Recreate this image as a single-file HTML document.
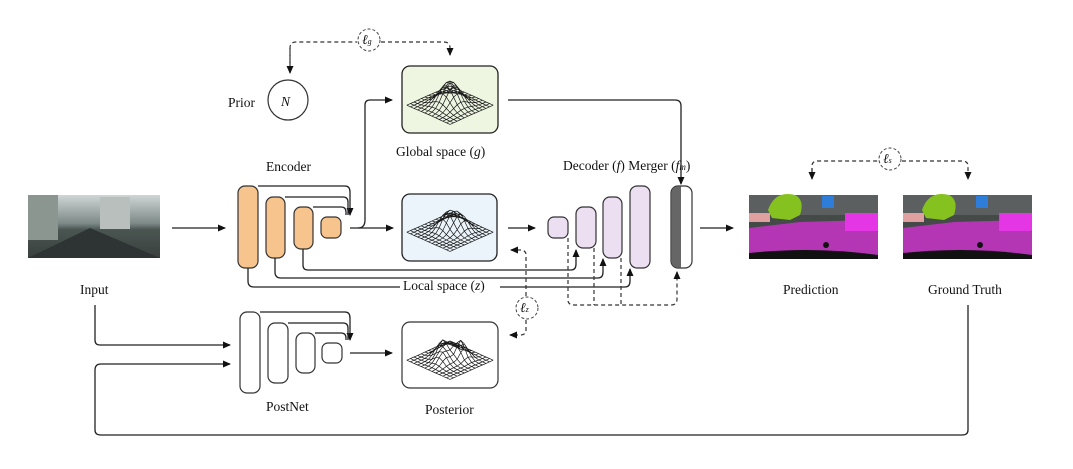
<!DOCTYPE html>
<html><head><style>
body{margin:0;background:#fff}
svg{display:block}
text{font-family:"Liberation Serif",serif;font-size:13.5px;fill:#111}
.s{stroke:#222;stroke-width:1.3;fill:none}
.d{stroke:#333;stroke-width:1.2;fill:none;stroke-dasharray:4,3}
.o{fill:#f8c48e;stroke:#333;stroke-width:1.2}
.p{fill:#ebdff1;stroke:#333;stroke-width:1.2}
.w{fill:#fff;stroke:#333;stroke-width:1.2}
</style></head><body>
<svg width="1073" height="469" viewBox="0 0 1073 469">
<defs>
<marker id="a" markerWidth="8" markerHeight="8" refX="7" refY="4" orient="auto" markerUnits="userSpaceOnUse"><path d="M0,0.5L8,4L0,7.5z" fill="#111"/></marker>
<linearGradient id="sky" x1="0" y1="0" x2="0" y2="1"><stop offset="0" stop-color="#cfd6d6"/><stop offset="0.45" stop-color="#7d8a88"/><stop offset="0.55" stop-color="#4a5552"/><stop offset="1" stop-color="#3a403e"/></linearGradient>
</defs>
<!-- input -->
<rect x="28" y="195" width="132" height="63" fill="url(#sky)"/>
<rect x="28" y="195" width="30" height="45" fill="#8a968f"/><rect x="100" y="197" width="30" height="32" fill="#b8bfbc"/>
<path d="M28,258L90,228L160,258Z" fill="#2e3433"/>
<text x="80" y="294">Input</text>
<path class="s" d="M172,228H225" marker-end="url(#a)"/>
<!-- encoder -->
<text x="266" y="171">Encoder</text>
<rect class="o" x="238" y="186" width="20" height="82" rx="7"/>
<rect class="o" x="266" y="197" width="19" height="61" rx="7"/>
<rect class="o" x="294" y="207" width="19" height="42" rx="7"/>
<rect class="o" x="321" y="217" width="20" height="21" rx="6"/>
<path class="s" d="M258,186H345Q350,186 350,192V215" marker-end="url(#a)"/>
<path class="s" d="M285,197H343Q348,197 348,202V215"/>
<path class="s" d="M313,207H341Q346,207 346,212V215"/>
<path class="s" d="M350,228H393" marker-end="url(#a)"/>
<path class="s" d="M358,228Q365,228 365,220V105Q365,100 370,100H392" marker-end="url(#a)"/>
<!-- prior -->
<text x="228" y="107">Prior</text>
<circle cx="288" cy="100" r="20" class="w"/>
<text x="281" y="106" font-style="italic" font-size="17">N</text>
<path class="d" d="M290,70V48Q290,42 296,42H357M381,42H444Q450,42 450,48V55" marker-end="url(#a)"/>
<path class="d" d="M290,48V73" marker-end="url(#a)"/>
<circle cx="369" cy="40" r="11" fill="#fff" stroke="#444" stroke-dasharray="3,2"/>
<text x="362" y="44" font-style="italic">ℓ<tspan font-size="8">g</tspan></text>
<!-- global -->
<rect x="402" y="66" width="96" height="67" rx="8" fill="#eef6e2" stroke="#222" stroke-width="1.3"/>
<g id="m1"></g>
<text x="396" y="156">Global space (<tspan font-style="italic">g</tspan>)</text>
<path class="s" d="M508,100H675Q681,100 681,106V184" marker-end="url(#a)"/>
<!-- local -->
<rect x="402" y="194" width="95" height="67" rx="8" fill="#eaf4fa" stroke="#222" stroke-width="1.3"/>
<g id="m2"></g>
<path class="s" d="M508,228H535" marker-end="url(#a)"/>
<!-- skip lines -->
<path class="s" d="M303,249V265Q303,270 308,270H571Q576,270 576,264V250" marker-end="url(#a)"/>
<path class="s" d="M275,258V272Q275,278 281,278H598Q603,278 603,272V259" marker-end="url(#a)"/>
<path class="s" d="M248,268V281Q248,287 254,287H625Q630,287 630,281V269" marker-end="url(#a)"/>
<rect x="400" y="279" width="100" height="14" fill="#fff"/>
<text x="403" y="290">Local space (<tspan font-style="italic">z</tspan>)</text>
<!-- decoder -->
<text x="563" y="170">Decoder (<tspan font-style="italic">f</tspan>)  Merger (<tspan font-style="italic">f<tspan font-size="9">m</tspan></tspan>)</text>
<rect class="p" x="548" y="217" width="20" height="21" rx="6"/>
<rect class="p" x="576" y="207" width="20" height="41" rx="7"/>
<rect class="p" x="603" y="197" width="19" height="61" rx="7"/>
<rect class="p" x="630" y="186" width="20" height="82" rx="7"/>
<rect x="671" y="186" width="21" height="82" rx="7" fill="#fff" stroke="#333" stroke-width="1.2"/>
<path d="M681,186.6H678Q671.6,186.6 671.6,193V261Q671.6,267.4 678,267.4H681Z" fill="#666"/>
<path class="d" d="M568,238V300Q568,305 574,305H671Q677,305 677,299V272" marker-end="url(#a)"/>
<path class="d" d="M594,248V305M621,258V305"/>
<path class="s" d="M700,228H733" marker-end="url(#a)"/>
<!-- lz -->
<path class="d" d="M526,296V255Q526,250 520,250H511" marker-end="url(#a)"/>
<path class="d" d="M526,320V330Q526,335 520,335H510" marker-end="url(#a)"/>
<circle cx="527" cy="308" r="11" fill="#fff" stroke="#444" stroke-dasharray="3,2"/>
<text x="520" y="312" font-style="italic">ℓ<tspan font-size="8">z</tspan></text>
<!-- prediction -->
<g id="seg">
<rect x="749" y="195" width="129" height="64" fill="#444a48"/>
<rect x="749" y="195" width="129" height="20" fill="#5b5f5f"/>
<path d="M749,213H770V222H749Z" fill="#e0a0a0"/>
<path d="M768,210Q775,190 795,195Q805,200 800,215L790,220L772,218Z" fill="#85c21f"/>
<rect x="822" y="196" width="12" height="12" fill="#2e7dd8"/>
<path d="M749,228L800,222L870,220L878,232V259H749Z" fill="#b536b5"/>
<rect x="845" y="213" width="33" height="18" fill="#e536e5"/>
<path d="M749,253Q815,246 878,255V259H749Z" fill="#111"/>
<circle cx="826" cy="245" r="3" fill="#111"/>
</g>
<use href="#seg" x="154" y="0"/>
<text x="783" y="294">Prediction</text>
<text x="928" y="294">Ground Truth</text>
<path class="d" d="M812,172V166Q812,161 818,161H878M902,161H962Q968,161 968,166V179" marker-end="url(#a)"/>
<path class="d" d="M812,168V179" marker-end="url(#a)"/>
<circle cx="890" cy="159" r="11" fill="#fff" stroke="#444" stroke-dasharray="3,2"/>
<text x="883" y="163" font-style="italic">ℓ<tspan font-size="8">s</tspan></text>
<!-- postnet -->
<rect class="w" x="240" y="312" width="20" height="81" rx="7"/>
<rect class="w" x="268" y="323" width="20" height="60" rx="7"/>
<rect class="w" x="296" y="333" width="19" height="40" rx="7"/>
<rect class="w" x="322" y="343" width="20" height="20" rx="6"/>
<path class="s" d="M260,312H345Q350,312 350,318V340" marker-end="url(#a)"/>
<path class="s" d="M288,323H343Q348,323 348,328V340"/>
<path class="s" d="M315,333H341Q346,333 346,338V340"/>
<path class="s" d="M350,353H392" marker-end="url(#a)"/>
<text x="266" y="411">PostNet</text>
<rect class="w" x="402" y="322" width="96" height="66" rx="8"/>
<g id="m3"></g>
<text x="425" y="414">Posterior</text>
<path class="s" d="M95,305V340Q95,345 100,345H230" marker-end="url(#a)"/>
<path class="s" d="M968,305V430Q968,435 962,435H101Q95,435 95,430V370Q95,364 101,364H230" marker-end="url(#a)"/>
</svg>
<script>
function mesh(id,cx,cy,peaks){
  var N=12,g=document.getElementById(id),d="";
  function P(i,j){var h=0;peaks.forEach(function(p){h+=p[2]*Math.exp(-((i-p[0])*(i-p[0])+(j-p[1])*(j-p[1]))/p[3]);});
    return [(cx+(i-j)*3.6).toFixed(1),(cy+(i+j)*1.6-h).toFixed(1)];}
  for(var i=0;i<=N;i++){var s="M";for(var j=0;j<=N;j++){var p=P(i,j);s+=p[0]+","+p[1]+(j<N?"L":"");}d+=s;}
  for(var j=0;j<=N;j++){var s="M";for(var i=0;i<=N;i++){var p=P(i,j);s+=p[0]+","+p[1]+(i<N?"L":"");}d+=s;}
  var e=document.createElementNS("http://www.w3.org/2000/svg","path");
  e.setAttribute("d",d);e.setAttribute("fill","none");e.setAttribute("stroke","#1a1a1a");e.setAttribute("stroke-width","0.7");
  g.appendChild(e);
}
mesh("m1",450,86,[[6,6,24,8]]);
mesh("m2",450,213,[[5,6,16,4],[7,4,14,4],[4,3,8,4]]);
mesh("m3",450,341,[[4,6,16,3],[7,4,18,3],[6,8,10,3],[3,3,8,3]]);
</script>
</body></html>
